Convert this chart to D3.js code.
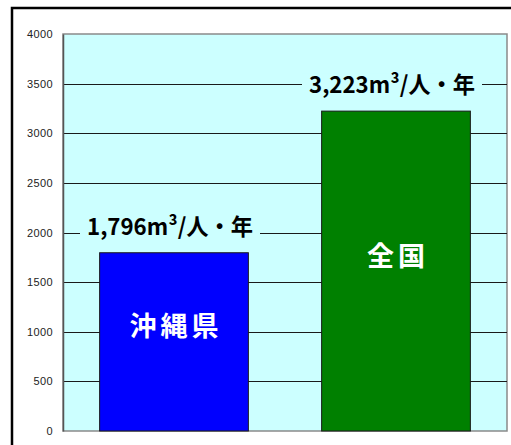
<!DOCTYPE html>
<html>
<head>
<meta charset="utf-8">
<script src="https://cdn.jsdelivr.net/npm/d3@7"></script>
<style>
  body { margin: 0; background: #fff; }
  svg { display: block; }
</style>
</head>
<body>
<div id="chart"></div>
<script>
// water resources per person (m3 per person per year)
const categories = ["沖縄県", "全国"];
const values = [1796, 3223];
const valueLabels = ["1,796", "3,223"];
const barColors = ["#0000ff", "#008000"];
const yTicks = [0, 500, 1000, 1500, 2000, 2500, 3000, 3500, 4000];

var width = 511, height = 445;
var plot = {left: 63, top: 34, right: 507, bottom: 431};

var svg = d3.select("#chart").append("svg")
    .attr("width", width)
    .attr("height", height);

// outer frame (runs off the right and bottom edges)
svg.append("rect")
    .attr("x", 12).attr("y", 8)
    .attr("width", 520).attr("height", 460)
    .attr("fill", "#fff")
    .attr("stroke", "#000")
    .attr("stroke-width", 2.5);

var x = d3.scaleBand()
    .domain(categories)
    .range([plot.left, plot.right])
    .paddingInner(0.33)
    .paddingOuter(0.165);

var y = d3.scaleLinear()
    .domain([0, 4000])
    .range([plot.bottom, plot.top]);

// plot background
svg.append("rect")
    .attr("x", plot.left).attr("y", plot.top)
    .attr("width", plot.right - plot.left)
    .attr("height", plot.bottom - plot.top)
    .attr("fill", "#ccffff")
    .attr("stroke", "#8a8a8a")
    .attr("stroke-width", 1.5);

// gridlines
svg.append("g")
    .selectAll("line")
    .data(yTicks.filter(function(d) { return d > 0 && d < 4000; }))
    .enter().append("line")
    .attr("x1", plot.left).attr("x2", plot.right)
    .attr("y1", function(d) { return Math.round(y(d)) + 0.5; })
    .attr("y2", function(d) { return Math.round(y(d)) + 0.5; })
    .attr("stroke", "#1a1a1a")
    .attr("stroke-width", 1);

// y axis
var yAxis = svg.append("g")
    .attr("transform", "translate(" + plot.left + ",0)")
    .call(d3.axisLeft(y).tickValues(yTicks).tickFormat(d3.format("d")).tickSize(0).tickPadding(10));
yAxis.select(".domain").attr("stroke", "#555").attr("stroke-width", 1.5);
yAxis.selectAll("text")
    .attr("font-family", "Arial, 'Liberation Sans', sans-serif")
    .attr("font-size", 11)
    .attr("letter-spacing", 0.4)
    .attr("fill", "#222");

// bars
svg.append("g")
    .selectAll("rect")
    .data(values)
    .enter().append("rect")
    .attr("x", function(d, i) { return x(categories[i]); })
    .attr("y", function(d) { return y(d); })
    .attr("width", x.bandwidth())
    .attr("height", function(d) { return y(0) - y(d); })
    .attr("fill", function(d, i) { return barColors[i]; })
    .attr("stroke", "#1a1a1a")
    .attr("stroke-width", 1);

// value labels above bars, with a background box hiding the gridline
var labelFont = "'Noto Sans CJK JP', sans-serif";
var labels = svg.append("g")
    .selectAll("g")
    .data(values)
    .enter().append("g")
    .attr("transform", function(d, i) {
        return "translate(" + (x(categories[i]) + x.bandwidth() / 2 - 4) + "," + (y(d) - 18) + ")";
    });

labels.append("rect")
    .attr("x", -90).attr("y", -20)
    .attr("width", 180).attr("height", 24)
    .attr("fill", "#ccffff");

labels.append("text")
    .attr("text-anchor", "middle")
    .attr("font-family", labelFont)
    .attr("font-weight", "bold")
    .attr("font-size", 23)
    .attr("fill", "#000")
    .attr("textLength", 166)
    .attr("lengthAdjust", "spacingAndGlyphs")
    .text(function(d, i) { return valueLabels[i] + "m³/人・年"; });

// category names inside bars
svg.append("g")
    .selectAll("text")
    .data(values)
    .enter().append("text")
    .attr("x", function(d, i) { return x(categories[i]) + x.bandwidth() / 2 + 2; })
    .attr("y", function(d) { return y(d / 2) - 15; })
    .attr("dy", "0.35em")
    .attr("text-anchor", "middle")
    .attr("font-family", labelFont)
    .attr("font-weight", "bold")
    .attr("font-size", 27)
    .attr("letter-spacing", 4)
    .attr("fill", "#fff")
    .text(function(d, i) { return categories[i]; });
</script>
</body>
</html>
